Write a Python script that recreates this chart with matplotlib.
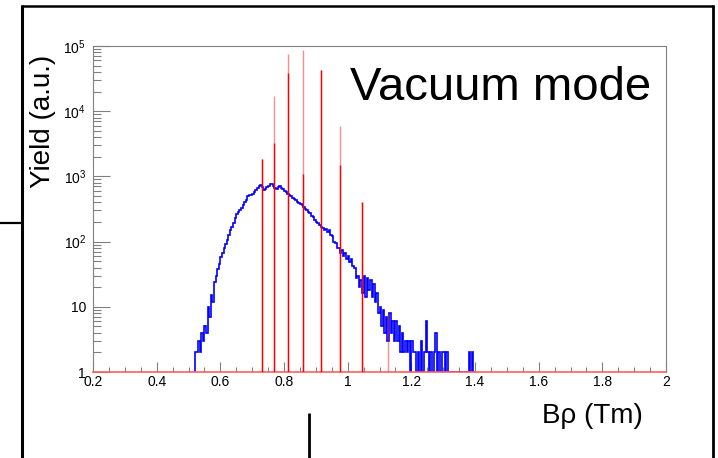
import numpy as np
import matplotlib
matplotlib.use('Agg')
import matplotlib.pyplot as plt
from matplotlib.lines import Line2D
from matplotlib.ticker import FixedLocator, FixedFormatter, LogLocator, NullFormatter, MultipleLocator

plt.rcParams['font.family'] = ['Liberation Sans', 'DejaVu Sans']
plt.rcParams['mathtext.fontset'] = 'custom'
plt.rcParams['mathtext.rm'] = 'Liberation Sans'
plt.rcParams['mathtext.it'] = 'Liberation Sans:italic'
plt.rcParams['mathtext.bf'] = 'Liberation Sans:bold'

# blue histogram (all ions), bins of 0.005 Tm starting at 0.52
blue_start = 0.52
blue_width = 0.005
blue_counts = [
    2, 2, 3, 2, 4, 3, 5, 4, 10, 7,
    15, 12, 24, 30, 38, 46, 58, 66, 80, 93,
    105, 125, 150, 165, 195, 230, 265, 280, 300, 330,
    360, 400, 440, 500, 520, 525, 545, 570, 610, 660,
    720, 740, 690, 620, 640, 680, 720, 760, 770, 720,
    660, 650, 680, 700, 670, 640, 600, 570, 540, 520,
    500, 470, 450, 430, 410, 390, 380, 360, 340, 320,
    300, 285, 270, 250, 235, 215, 200, 190, 180, 170,
    160, 150, 158, 140, 148, 125, 120, 100, 95, 80,
    80, 68, 74, 60, 66, 54, 60, 48, 55, 42,
    40, 28, 30, 20, 26, 16, 30, 14, 28, 18,
    26, 14, 22, 12, 16, 8, 10, 5, 9, 4,
    7, 3, 8, 4, 6, 3, 6, 3, 5, 2,
    4, 2, 3, 2, 3, 1, 3, 2, 2, 1,
    2, 1, 3, 1, 2, 6, 2, 1, 2, 1,
    2, 4, 1, 2, 1, 2, 2, 1, 2, 1,
    1, 1, 1, 1, 1, 1, 1, 1, 1, 1,
    1, 1, 2, 1, 2, 1,
]

# red histogram (selected charge states): narrow peaks
red_pos = [0.732, 0.770, 0.814, 0.861, 0.915, 0.976, 1.046, 1.127]
red_peak = [1860, 17400, 76000, 88000, 43000, 6000, 400, 8]
red_core = [1860, 3200, 38000, 1100, 43000, 1500, 400, 1]

x_ticks = [0.2, 0.4, 0.6, 0.8, 1.0, 1.2, 1.4, 1.6, 1.8, 2.0]
x_labels = ['0.2', '0.4', '0.6', '0.8', '1', '1.2', '1.4', '1.6', '1.8', '2']
y_ticks = [1, 10, 100, 1000, 10000, 100000]
y_labels = ['1', '10', '$10^{2}$', '$10^{3}$', '$10^{4}$', '$10^{5}$']

W, H = 718, 458
fig = plt.figure(figsize=(W / 100, H / 100), dpi=100)
ax = fig.add_axes([93 / W, 86 / H, 573 / W, 326 / H])

edges = blue_start + blue_width * np.arange(len(blue_counts) + 1)
ax.stairs(blue_counts, edges, baseline=1, color='#0000ff', lw=1.2, zorder=2)

ax.vlines(red_pos, 1, red_peak, color='#ff0000', alpha=0.45, lw=1.0, zorder=3)
ax.vlines(red_pos, 1, red_core, color='#ff0000', lw=1.0, zorder=3)

ax.set_yscale('log')
ax.set_xlim(0.2, 2.0)
ax.set_ylim(1, 1e5)

ax.xaxis.set_major_locator(FixedLocator(x_ticks))
ax.xaxis.set_major_formatter(FixedFormatter(x_labels))
ax.xaxis.set_minor_locator(MultipleLocator(0.05))
ax.yaxis.set_major_locator(FixedLocator(y_ticks))
ax.yaxis.set_major_formatter(FixedFormatter(y_labels))
ax.yaxis.set_minor_locator(LogLocator(base=10, subs=np.arange(2, 10)))
ax.yaxis.set_minor_formatter(NullFormatter())

grey = '#808080'
ax.tick_params(axis='both', which='both', direction='in', color=grey, width=0.8, labelsize=10)
ax.tick_params(axis='x', which='major', length=7.2, pad=2.5)
ax.tick_params(axis='x', which='minor', length=3.6)
ax.tick_params(axis='y', which='major', length=12, pad=5)
ax.tick_params(axis='y', which='minor', length=5.8)

for side in ['top', 'right', 'left']:
    ax.spines[side].set_color(grey)
    ax.spines[side].set_linewidth(0.8)
ax.spines['bottom'].set_color('#ff6060')
ax.spines['bottom'].set_linewidth(1.2)

fig.text(350 / W, (H - 100) / H, 'Vacuum mode', fontsize=34, ha='left', va='baseline')
fig.text(643 / W, (H - 423) / H, 'Bρ (Tm)', fontsize=20, ha='right', va='baseline')
fig.text(43.5 / W, (H - 121) / H, 'Yield (a.u.)', fontsize=20, rotation=90,
         ha='center', va='center')

# slide frame and stray lines around the plot
def fig_line(x0, y0, x1, y1, lw):
    fig.add_artist(Line2D([x0 / W, x1 / W], [(H - y0) / H, (H - y1) / H],
                          transform=fig.transFigure, color='black', lw=lw,
                          solid_capstyle='butt'))

fig_line(21.7, 5, 21.7, 458, 2.2)
fig_line(20.6, 6, 713.8, 6, 1.8)
fig_line(712.8, 5, 712.8, 458, 2.0)
fig_line(0, 223.3, 21, 223.3, 1.6)
fig_line(309, 413, 309, 458, 2.0)

fig.savefig('out.png', dpi=100)
